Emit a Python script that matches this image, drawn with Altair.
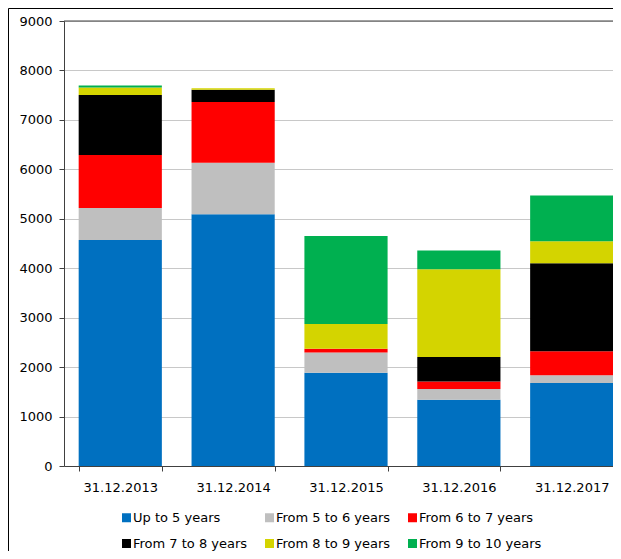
import altair as alt
import pandas as pd

dates = ["31.12.2013", "31.12.2014", "31.12.2015", "31.12.2016", "31.12.2017"]
series = ["Up to 5 years", "From 5 to 6 years", "From 6 to 7 years",
          "From 7 to 8 years", "From 8 to 9 years", "From 9 to 10 years"]
colors = ["#0070C0", "#BFBFBF", "#FF0000", "#000000", "#D4D400", "#00B050"]

up_to_5 = [4570, 5090, 1885, 1340, 1677]
from_5_6 = [648, 1045, 412, 216, 160]
from_6_7 = [1072, 1225, 73, 155, 485]
from_7_8 = [1215, 250, 0, 491, 1778]
from_8_9 = [150, 30, 500, 1778, 445]
from_9_10 = [40, 0, 1784, 377, 924]

y_ticks = [0, 1000, 2000, 3000, 4000, 5000, 6000, 7000, 8000, 9000]

all_vals = [up_to_5, from_5_6, from_6_7, from_7_8, from_8_9, from_9_10]
rows = []
for si, (name, vals) in enumerate(zip(series, all_vals)):
    for d, v in zip(dates, vals):
        rows.append({"date": d, "series": name, "value": v, "ord": si})
df = pd.DataFrame(rows)

FONT = "DejaVu Sans"

bars = alt.Chart(df).mark_bar().encode(
    x=alt.X("date:N", sort=dates, title=None,
            scale=alt.Scale(range=[0, 564], paddingInner=0.263, paddingOuter=0.13),
            axis=alt.Axis(labelAngle=0, tickBand="extent", tickSize=5, labelPadding=10,
                          domainColor="#404040", tickColor="#404040", grid=False)),
    y=alt.Y("value:Q", stack="zero", title=None,
            scale=alt.Scale(domain=[0, 9000], nice=False),
            axis=alt.Axis(values=y_ticks, format="d", tickSize=5, labelPadding=7, grid=True,
                          gridColor="#C8C8C8", domainColor="#404040", tickColor="#404040")),
    color=alt.Color("series:N", sort=series,
                    scale=alt.Scale(domain=series, range=colors),
                    legend=alt.Legend(title=None, orient="none", legendX=56, legendY=490,
                                      columns=3, direction="horizontal", symbolType="square",
                                      symbolSize=81, symbolStrokeWidth=0, labelOffset=0,
                                      columnPadding=15, rowPadding=12, padding=0)),
    order=alt.Order("ord:Q", sort="ascending"),
)

top_line = alt.Chart(pd.DataFrame({"v": [9000]})).mark_rule(color="#404040", strokeWidth=1).encode(
    y="v:Q"
)

frame_left = alt.Chart(pd.DataFrame({"a": [0]})).mark_rule(color="#000000", strokeWidth=1).encode(
    x=alt.value(-55.5), y=alt.value(-12.5), y2=alt.value(540)
)
frame_top = alt.Chart(pd.DataFrame({"a": [0]})).mark_rule(color="#000000", strokeWidth=1).encode(
    x=alt.value(-55.5), x2=alt.value(560), y=alt.value(-12.5)
)

chart = alt.layer(bars, top_line, frame_left, frame_top).properties(
    width=549, height=445, autosize="none",
    padding={"left": 56, "top": 13, "right": 0, "bottom": 85},
    background="white",
).configure_view(stroke=None).configure_axis(
    labelFont=FONT, labelFontSize=13, labelColor="#000000"
).configure_legend(
    labelFont=FONT, labelFontSize=13, labelColor="#000000"
)

chart.save("out.html", embed_options={"renderer": "svg", "actions": False})
